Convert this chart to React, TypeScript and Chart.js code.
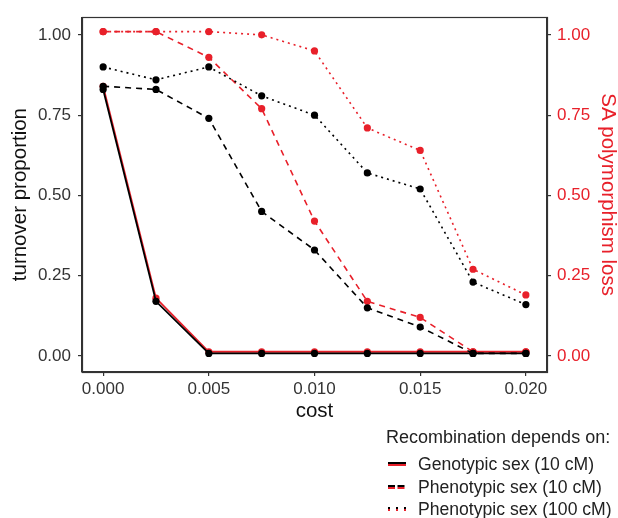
import React, { useEffect, useRef } from "react";
import { Chart, registerables } from "chart.js";

Chart.register(...registerables);

// ---- data ----
const costs = [0, 0.0025, 0.005, 0.0075, 0.01, 0.0125, 0.015, 0.0175, 0.02];
const xTickStep = 0.005;
const yTickStep = 0.25;

const turnoverGenotypic10 = [0.83, 0.17, 0.008, 0.008, 0.008, 0.008, 0.008, 0.008, 0.008];
const turnoverPhenotypic10 = [0.84, 0.83, 0.74, 0.45, 0.33, 0.15, 0.09, 0.008, 0.008];
const turnoverPhenotypic100 = [0.9, 0.86, 0.9, 0.81, 0.75, 0.57, 0.52, 0.23, 0.16];

const lossGenotypic10 = [0.84, 0.18, 0.013, 0.013, 0.013, 0.013, 0.013, 0.013, 0.013];
const lossPhenotypic10 = [1.01, 1.01, 0.93, 0.77, 0.42, 0.17, 0.12, 0.013, 0.013];
const lossPhenotypic100 = [1.01, 1.01, 1.01, 1.0, 0.95, 0.71, 0.64, 0.27, 0.19];

const legendTitle = "Recombination depends on:";
const legendLabels = ["Genotypic sex (10 cM)", "Phenotypic sex (10 cM)", "Phenotypic sex (100 cM)"];

const RED = "#e8202a";
const BLACK = "#000000";
const AXIS = "#333333";
const TICKTXT = "#333333";
const FONT = "'Liberation Sans', Arial, Helvetica, sans-serif";

const DASHED = [6, 5];
const DOTTED = [2, 4];

export default function App() {
  const ref = useRef<HTMLCanvasElement>(null);

  useEffect(() => {
    if (!ref.current) return;
    Chart.defaults.font.family = FONT;

    const mk = (label: string, data: number[], color: string, dash: number[], width: number) => ({
      label,
      data: costs.map((c, i) => ({ x: c, y: data[i] })),
      borderColor: color,
      backgroundColor: color,
      pointBackgroundColor: color,
      pointBorderColor: color,
      pointRadius: 3.6,
      pointBorderWidth: 0,
      pointHoverRadius: 3.6,
      borderWidth: width,
      borderDash: dash,
      tension: 0,
      fill: false,
      yAxisID: "y",
    });

    const boxPlugin = {
      id: "panelBox",
      afterDraw(chart: any) {
        const { ctx, chartArea: a } = chart;
        ctx.save();
        ctx.strokeStyle = AXIS;
        ctx.lineWidth = 1.2;
        ctx.strokeRect(Math.round(a.left) + 0.5, Math.round(a.top) + 0.5, Math.round(a.right - a.left), Math.round(a.bottom - a.top));
        ctx.restore();
      },
    };

    const gridCfg = { display: true, drawOnChartArea: false, drawTicks: true, tickLength: 4, color: AXIS, lineWidth: 1.2 };
    const borderCfg = { display: true, color: AXIS, width: 1.2 };

    const chart = new Chart(ref.current, {
      type: "line",
      data: {
        datasets: [
          mk(legendLabels[0] + " turnover", turnoverGenotypic10, BLACK, [], 1.8),
          mk(legendLabels[1] + " turnover", turnoverPhenotypic10, BLACK, DASHED, 1.6),
          mk(legendLabels[2] + " turnover", turnoverPhenotypic100, BLACK, DOTTED, 1.6),
          mk(legendLabels[0] + " loss", lossGenotypic10, RED, [], 1.8),
          mk(legendLabels[1] + " loss", lossPhenotypic10, RED, DASHED, 1.6),
          mk(legendLabels[2] + " loss", lossPhenotypic100, RED, DOTTED, 1.6),
        ] as any,
      },
      options: {
        animation: false,
        responsive: false,
        devicePixelRatio: 1,
        layout: { padding: { top: 13, left: 0, right: 0, bottom: 0 } },
        plugins: { legend: { display: false }, tooltip: { enabled: false } },
        scales: {
          x: {
            type: "linear",
            min: -0.001,
            max: 0.021,
            grid: gridCfg as any,
            border: borderCfg as any,
            ticks: {
              stepSize: xTickStep,
              includeBounds: false,
              autoSkip: false,
              maxRotation: 0,
              padding: 3,
              color: TICKTXT,
              font: { size: 17, family: FONT },
              callback: (v: any) => Number(v).toFixed(3),
            },
            title: {
              display: true,
              text: "cost",
              color: "#111",
              font: { size: 20.5, family: FONT, lineHeight: 1 },
              padding: { top: 0, bottom: 96 },
            },
            afterFit: (s: any) => {
              s.height = 146;
            },
          },
          y: {
            type: "linear",
            position: "left",
            min: -0.05,
            max: 1.055,
            grid: gridCfg as any,
            border: borderCfg as any,
            ticks: {
              stepSize: yTickStep,
              includeBounds: false,
              padding: 7,
              color: TICKTXT,
              font: { size: 17, family: FONT },
              callback: (v: any) => Number(v).toFixed(2),
            },
            title: {
              display: true,
              text: "turnover proportion",
              color: "#111",
              font: { size: 20.5, family: FONT, lineHeight: 1 },
              padding: { top: 10, bottom: 0 },
            },
            afterFit: (s: any) => {
              s.width = 82;
            },
          },
          y2: {
            type: "linear",
            position: "right",
            min: -0.05,
            max: 1.055,
            grid: gridCfg as any,
            border: borderCfg as any,
            ticks: {
              stepSize: yTickStep,
              includeBounds: false,
              padding: 6,
              color: RED,
              font: { size: 17, family: FONT },
              callback: (v: any) => Number(v).toFixed(2),
            },
            title: {
              display: true,
              text: "SA polymorphism loss",
              color: RED,
              font: { size: 20.5, family: FONT, lineHeight: 1 },
              padding: { top: 0, bottom: 0 },
            },
            afterFit: (s: any) => {
              s.width = 71;
            },
          },
        },
      } as any,
      plugins: [boxPlugin],
    });
    return () => chart.destroy();
  }, []);

  const rowCenters = [463.5, 486.5, 509];
  const dashes = ["", "7 2.5", "2 6"];

  return (
    <div style={{ position: "absolute", left: 0, top: 0, width: 618, height: 518, background: "#fff", overflow: "hidden" }}>
      <canvas ref={ref} width={618} height={518} style={{ position: "absolute", left: 0, top: 0, width: 618, height: 518 }} />
      <div
        style={{
          position: "absolute",
          left: 386,
          top: 426,
          height: 22,
          lineHeight: "22px",
          fontFamily: FONT,
          fontSize: 18,
          color: "#222",
          whiteSpace: "nowrap",
        }}
      >
        {legendTitle}
      </div>
      {legendLabels.map((lab, i) => (
        <div key={lab}>
          <svg width={20} height={8} style={{ position: "absolute", left: 387, top: rowCenters[i] - 4 }}>
            <line x1={1} y1={3} x2={19} y2={3} stroke={BLACK} strokeWidth={2} strokeDasharray={dashes[i] || undefined} />
            <line x1={1} y1={5} x2={19} y2={5} stroke={RED} strokeWidth={2} strokeDasharray={dashes[i] || undefined} />
          </svg>
          <div
            style={{
              position: "absolute",
              left: 418,
              top: rowCenters[i] - 11,
              height: 22,
              lineHeight: "22px",
              fontFamily: FONT,
              fontSize: 17.6,
              color: "#222",
              whiteSpace: "nowrap",
            }}
          >
            {lab}
          </div>
        </div>
      ))}
    </div>
  );
}
